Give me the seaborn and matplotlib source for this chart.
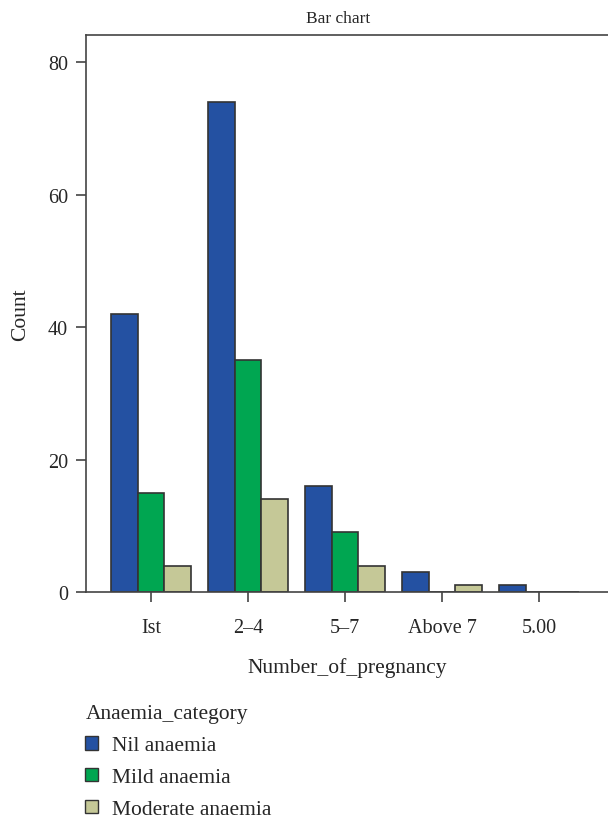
import numpy as np
import pandas as pd
import matplotlib
matplotlib.use("Agg")
import matplotlib.pyplot as plt
import seaborn as sns
from matplotlib.patches import Patch

# Data
pregnancy_groups = ["Ist", "2\u20134", "5\u20137", "Above 7", "5.00"]
anaemia_categories = ["Nil anaemia", "Mild anaemia", "Moderate anaemia"]
nil_counts = [42, 74, 16, 3, 1]
mild_counts = [15, 35, 9, 0, 0]
moderate_counts = [4, 14, 4, 1, 0]
bar_colors = ["#2451A2", "#00A651", "#C5C897"]

rows = []
for cat, vals in zip(anaemia_categories, [nil_counts, mild_counts, moderate_counts]):
    for grp, v in zip(pregnancy_groups, vals):
        rows.append({"Number_of_pregnancy": grp, "Anaemia_category": cat, "Count": v})
df = pd.DataFrame(rows)

sns.set_style("white")
plt.rcParams["font.family"] = ["Liberation Serif", "DejaVu Serif"]

fig = plt.figure(figsize=(6.08, 8.2), dpi=100)
ax = fig.add_axes([86 / 608, 1 - 593 / 820, 1 - 86 / 608, (593 - 36) / 820])

sns.barplot(data=df, x="Number_of_pregnancy", y="Count", hue="Anaemia_category",
            order=pregnancy_groups, hue_order=anaemia_categories,
            palette=bar_colors, saturation=1, width=0.82,
            edgecolor="#333333", linewidth=1.2, legend=False, ax=ax)

ax.set_xlim(-0.67, 4.71)
ax.set_ylim(0, 84.1)
ax.set_yticks([0, 20, 40, 60, 80])
ax.set_title("Bar chart", fontsize=12.5, x=0.483, pad=9)
ax.set_xlabel("Number_of_pregnancy", fontsize=15.5, labelpad=14)
ax.set_ylabel("Count", fontsize=15.5, labelpad=13)
ax.tick_params(axis="y", direction="out", length=7, width=1.2,
               color="#444444", labelsize=14.5, pad=6, left=True)
ax.tick_params(axis="x", direction="out", length=7, width=1.2,
               color="#444444", labelsize=14.5, pad=12, bottom=True)
for side in ["top", "left", "bottom"]:
    ax.spines[side].set_color("#444444")
    ax.spines[side].set_linewidth(1.2)
ax.spines["right"].set_visible(False)

handles = [Patch(facecolor=c, edgecolor="#333333", linewidth=1.0) for c in bar_colors]
fig.legend(handles, anaemia_categories, title="Anaemia_category",
           loc="upper left", bbox_to_anchor=(66 / 608, 1 - 686 / 820),
           frameon=False, fontsize=15.5, title_fontsize=15.5, alignment="left",
           handlelength=0.6, handleheight=0.6, handletextpad=0.65,
           labelspacing=0.58)

fig.savefig("out.png", dpi=100)
